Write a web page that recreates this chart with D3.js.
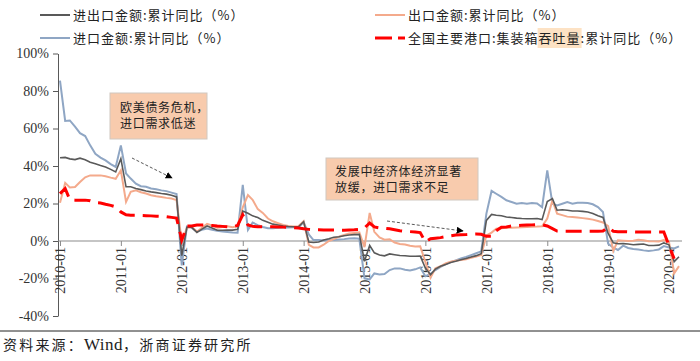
<!DOCTYPE html>
<html><head><meta charset="utf-8">
<script src="https://cdn.jsdelivr.net/npm/d3@7/dist/d3.min.js"></script>
<style>body{margin:0;background:#fff}svg{display:block}</style>
</head><body>
<svg id="c" width="700" height="361"></svg>
<script>
// ---- data (monthly cumulative YoY, %, 2010-01 .. 2020-03) ----
const firstMonth = "2010-01";
const lastMonth = "2020-03";
const seriesNames = ["进出口金额:累计同比（%）", "出口金额:累计同比（%）", "进口金额:累计同比（%）", "全国主要港口:集装箱吞吐量:累计同比（%）"];
const totalTrade = [
  44.4, 44.6, 43.8, 43.4, 44.2, 43.3, 42.0, 41.2, 40.3, 39.5, 38.2, 36.8,
  43.9, 28.9, 28.9, 28.0, 27.4, 26.7, 26.2, 25.8, 25.3, 25.0, 24.4, 23.5,
  -7.8, 7.3, 7.3, 4.6, 6.3, 8.0, 6.9, 5.7, 5.7, 5.9, 5.8, 6.2,
  16.0, 14.8, 13.4, 12.5, 11.0, 10.0, 9.0, 8.5, 8.0, 7.7, 7.6, 7.6,
  10.3, -0.5, -0.8, -0.5, 0.5, 1.2, 2.0, 2.3, 2.8, 3.2, 3.4, 3.5,
  -10.8, -2.3, -6.3, -7.5, -7.9, -6.9, -7.3, -7.7, -7.9, -8.1, -8.1, -8.0,
  -14.4, -18.0, -15.0, -13.5, -12.5, -11.5, -10.8, -10.0, -9.3, -8.5, -7.8, -6.8,
  11.0, 14.2, 13.7, 13.5, 12.8, 12.5, 12.2, 12.0, 11.9, 11.9, 12.0, 11.4,
  21.0, 22.6, 16.4, 16.7, 16.4, 16.0, 16.0, 15.8, 15.5, 14.7, 13.5, 12.6,
  4.0, -1.0, -1.5, -1.4, -1.6, -2.0, -1.8, -1.6, -2.4, -2.4, -2.2, -1.0,
  -2.0, -11.0, -8.4
];
const exportsYoY = [
  20.4, 31.0, 28.5, 28.8, 31.5, 34.0, 35.0, 35.0, 35.0, 34.5, 33.8, 33.2,
  37.7, 20.9, 26.2, 27.0, 26.0, 25.3, 24.4, 23.9, 23.5, 23.0, 22.7, 21.8,
  -0.5, 6.9, 7.6, 4.9, 7.1, 9.2, 8.3, 7.1, 7.4, 7.8, 7.3, 7.9,
  18.0, 24.5, 22.0, 17.0, 15.0, 12.0, 10.5, 9.5, 8.5, 8.0, 7.7, 7.9,
  10.6, -2.0, -3.4, -3.4, -2.0, 0.0, 1.0, 2.3, 3.2, 4.0, 4.3, 4.6,
  -3.3, 15.0, 4.9, 1.9, 0.7, 0.9, -0.8, -1.6, -1.9, -2.5, -2.9, -2.8,
  -11.2, -19.5, -14.5, -13.5, -12.0, -11.0, -10.5, -10.2, -9.7, -9.0, -8.3, -7.5,
  3.0, 4.5, 6.5, 6.8, 7.0, 7.1, 7.2, 7.3, 7.5, 7.6, 7.7, 7.9,
  12.0, 21.7, 14.6, 13.8, 13.0, 12.8, 12.5, 12.2, 11.9, 11.4, 10.7, 9.9,
  8.0, -5.3, 0.4, 0.2, 0.0, 0.1, 0.6, 0.4, -0.1, -0.2, -0.3, 0.5,
  -0.5, -17.2, -13.4
];
const importsYoY = [
  85.5, 64.0, 64.3, 61.0, 57.5, 56.0, 51.0, 46.5, 44.5, 43.0, 41.0, 39.5,
  51.0, 36.0, 33.3, 30.6, 29.2, 28.9, 28.0, 27.6, 27.0, 26.6, 25.8, 25.0,
  -13.0, 7.7, 7.0, 5.0, 6.0, 6.7, 6.0, 5.5, 5.0, 4.8, 4.5, 4.4,
  29.9, 5.9, 9.8, 8.5, 7.5, 6.8, 6.8, 7.0, 7.2, 7.2, 7.3, 7.3,
  10.0, 3.5, 0.5, 0.5, 0.3, 0.5, 0.5, 0.8, 1.0, 1.3, 1.4, 1.2,
  -19.9, -20.5, -17.3, -17.8, -17.6, -15.5, -14.6, -14.6, -15.3, -15.7, -15.1, -14.1,
  -18.8, -17.5, -15.5, -13.8, -12.5, -11.3, -10.3, -9.3, -8.5, -7.5, -6.5, -5.5,
  14.6, 26.7, 25.2, 23.5, 21.7, 20.8, 19.9, 20.3, 19.9, 20.3, 20.0, 18.0,
  37.7, 19.9, 19.0, 19.9, 20.8, 19.9, 20.4, 20.4, 20.3, 19.6, 18.1, 15.5,
  -1.5, -3.6, -4.8, -2.5, -3.7, -4.3, -4.5, -5.0, -5.3, -5.0, -4.5, -2.7,
  -3.5, -4.0, -2.9
];
const containerYoY = [
  25.3, 28.0, 22.0, 21.8, 21.8, 21.8, 21.5, 20.5, 20.3, 19.6, 19.0, 18.2,
  15.5, 14.0, 13.8, 13.8, 13.6, 13.5, 13.4, 13.2, 13.1, 13.0, 12.6, 12.2,
  0.5, 8.0, 8.0, 8.5, 8.5, 8.5, 8.3, 8.0, 7.8, 7.6, 7.6, 8.3,
  13.9, 8.5, 7.8, 7.6, 7.6, 7.6, 7.6, 7.5, 7.4, 7.3, 7.1, 6.9,
  6.5, 6.2, 6.0, 6.0, 5.9, 5.9, 5.9, 5.8, 5.8, 5.9, 6.0, 6.2,
  7.0, 9.6, 7.5, 7.0, 6.8, 6.5, 6.0, 5.5, 5.2, 5.0, 4.8, 4.5,
  -0.5, 1.2, 1.5, 1.8, 2.3, 2.8, 3.2, 3.3, 3.4, 3.6, 3.7, 3.6,
  2.5, 2.5, 5.5, 7.3, 7.5, 8.0, 8.2, 8.4, 8.5, 8.6, 8.7, 8.7,
  8.0, 6.6, 5.3, 5.2, 5.2, 5.2, 5.2, 5.2, 5.2, 5.2, 5.2, 5.3,
  7.3, 5.2, 5.0, 5.0, 4.9, 4.9, 4.8, 4.8, 4.8, 4.8, 4.8, 4.8,
  -2.5, -9.5, null
];
const yTickValues = [-40, -20, 0, 20, 40, 60, 80, 100];
const xTickLabels = ["2010-01","2011-01","2012-01","2013-01","2014-01","2015-01","2016-01","2017-01","2018-01","2019-01","2020-01"];
const notes = [["欧美债务危机，", "进口需求低迷"], ["发展中经济体经济显著", "放缓，进口需求不足"]];
const sourceText = ["资料来源：", "Wind", "，浙商证券研究所"];

// ---- drawing ----
const parse = d3.timeParse("%Y-%m");
const months = d3.timeMonth.range(parse(firstMonth), d3.timeMonth.offset(parse(lastMonth), 1));
const svg = d3.select("#c");
const x = d3.scaleTime().domain([parse("2010-01"), parse("2020-01")]).range([60, 669]);
const y = d3.scaleLinear().domain([-40, 100]).range([316, 53.5]);

const serif = "'Liberation Serif','Times New Roman',serif";
const cjk = "'Noto Sans CJK SC','Noto Sans',sans-serif";

// y axis
const ya = svg.append("g").attr("transform", "translate(58,0)")
  .call(d3.axisLeft(y).tickValues(yTickValues).tickSize(5).tickSizeOuter(0).tickPadding(4).tickFormat(d => d + "%"));
ya.select(".domain").attr("stroke", "#595959");
ya.selectAll(".tick line").attr("stroke", "#595959");
ya.selectAll("text").attr("font-family", serif).attr("font-size", 14).attr("fill", "#333");

// zero line + x axis ticks/labels
svg.append("line").attr("x1", 58).attr("x2", 682).attr("y1", y(0)).attr("y2", y(0))
  .attr("stroke", "#8c8c8c").attr("stroke-width", 1.2);
const xa = svg.append("g").attr("transform", `translate(0,${y(0)})`)
  .call(d3.axisBottom(x).tickValues(xTickLabels.map(parse)).tickSize(5).tickFormat(d3.timeFormat("%Y-%m")));
xa.select(".domain").remove();
xa.selectAll(".tick line").attr("stroke", "#8c8c8c");
xa.selectAll("text").attr("font-family", serif).attr("font-size", 14).attr("fill", "#333")
  .attr("transform", "rotate(-90)").attr("text-anchor", "end").attr("x", -6).attr("y", 0).attr("dy", "0.35em");

// lines
const lineOf = arr => d3.line().defined(d => d[1] != null).x(d => x(d[0])).y(d => y(d[1]))(arr.map((v, i) => [months[i], v]));
const cBlue = "#8fa6c4", cOrange = "#f4aa8c", cGray = "#595959", cRed = "#ff0000";
svg.append("path").attr("d", lineOf(importsYoY)).attr("fill", "none").attr("stroke", cBlue).attr("stroke-width", 2);
svg.append("path").attr("d", lineOf(exportsYoY)).attr("fill", "none").attr("stroke", cOrange).attr("stroke-width", 2);
svg.append("path").attr("d", lineOf(totalTrade)).attr("fill", "none").attr("stroke", cGray).attr("stroke-width", 1.6);
svg.append("path").attr("d", lineOf(containerYoY)).attr("fill", "none").attr("stroke", cRed).attr("stroke-width", 3)
  .attr("stroke-dasharray", "16,8");

// legend
const leg = [
  {x: 40, y: 15, c: cGray, w: 2, dash: null, t: seriesNames[0]},
  {x: 375, y: 15, c: cOrange, w: 2, dash: null, t: seriesNames[1]},
  {x: 40, y: 38, c: cBlue, w: 2, dash: null, t: seriesNames[2]},
  {x: 375, y: 38, c: cRed, w: 3, dash: "17,6", t: seriesNames[3]}
];
const legG = svg.append("g");
leg.forEach((l, k) => {
  const g = legG.append("g");
  g.append("line").attr("x1", l.x).attr("x2", l.x + 30).attr("y1", l.y).attr("y2", l.y)
    .attr("stroke", l.c).attr("stroke-width", l.w).attr("stroke-dasharray", l.dash);
  const t = g.append("text").attr("x", l.x + 33).attr("y", l.y).attr("dy", "0.35em")
    .attr("font-family", cjk).attr("font-size", 13).attr("letter-spacing", 1).attr("fill", "#222").text(l.t);
  if (k === 3) {
    const s = l.t.indexOf("吞吐量");
    const node = t.node();
    const x0 = node.getStartPositionOfChar(s).x;
    const x1 = node.getEndPositionOfChar(s + 2).x;
    g.insert("rect", () => node).attr("x", x0 - 1).attr("y", l.y - 10).attr("width", x1 - x0 + 2).attr("height", 20)
      .attr("fill", "#fde2c4");
  }
});

// annotation boxes
const boxes = [{x: 110, y: 93, w: 97, h: 46, tx: 120, ty: [108, 124]}, {x: 326, y: 158, w: 152, h: 42, tx: 335, ty: [172, 188]}];
boxes.forEach((b, k) => {
  svg.append("rect").attr("x", b.x).attr("y", b.y).attr("width", b.w).attr("height", b.h)
    .attr("fill", "#f8cbad").attr("stroke", "#d0c8c0").attr("stroke-width", 1);
  notes[k].forEach((s, j) => svg.append("text").attr("x", b.tx).attr("y", b.ty[j]).attr("dy", "0.35em")
    .attr("font-family", cjk).attr("font-size", 12).attr("letter-spacing", 0.7).attr("fill", "#222").text(s));
});

// arrows
svg.append("defs").append("marker").attr("id", "ah").attr("viewBox", "0 0 10 10").attr("refX", 9).attr("refY", 5)
  .attr("markerWidth", 7).attr("markerHeight", 7).attr("orient", "auto").attr("markerUnits", "userSpaceOnUse")
  .append("path").attr("d", "M0,0L10,5L0,10Z").attr("fill", "#000");
[[132, 158, 172, 178], [387, 221, 463, 231]].forEach(a => {
  svg.append("line").attr("x1", a[0]).attr("y1", a[1]).attr("x2", a[2]).attr("y2", a[3])
    .attr("stroke", "#595959").attr("stroke-width", 1).attr("stroke-dasharray", "3,2").attr("marker-end", "url(#ah)");
});

// bottom rule and source
svg.append("line").attr("x1", 0).attr("x2", 700).attr("y1", 331).attr("y2", 331).attr("stroke", "#222").attr("stroke-width", 1);
const src = svg.append("text").attr("x", 3).attr("y", 350).attr("font-family", cjk).attr("font-size", 14)
  .attr("letter-spacing", 2.2).attr("fill", "#222");
src.append("tspan").text(sourceText[0]);
src.append("tspan").attr("font-family", serif).attr("font-size", 17).attr("letter-spacing", 0.5).text(sourceText[1]);
src.append("tspan").text(sourceText[2]);
</script>
</body></html>
